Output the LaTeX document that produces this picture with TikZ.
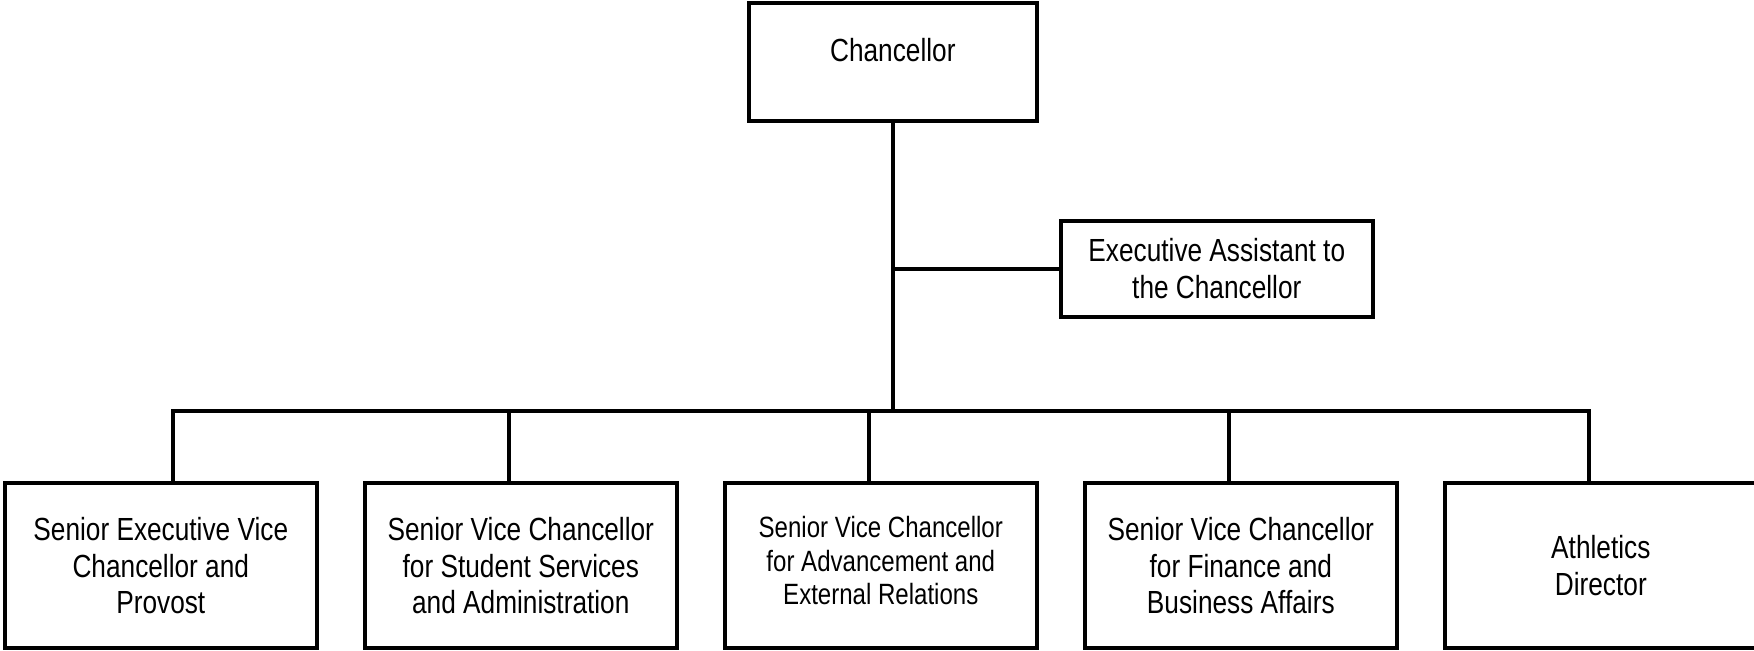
\documentclass[tikz,border=0pt]{standalone}
\usepackage{fontspec}
\setmainfont{Liberation Sans}[FakeStretch=0.82]
\begin{document}
\begin{tikzpicture}[x=0.375pt,y=-0.375pt,
  orgbox/.style={draw, rectangle, line width=1.5pt, inner sep=0pt, align=center,
                 font=\fontsize{12}{13.8}\selectfont},
  lowbox/.style={orgbox, minimum width=116.9pt, minimum height=62pt},
  smalltext/.style={inner sep=0pt, align=center, font=\fontsize{11}{12.65}\selectfont},
  link/.style={draw, line width=1.5pt, line join=miter}]
\useasboundingbox (0,0) rectangle (1754,650);
\clip (0,0) rectangle (1754,650);
% top
\node[orgbox, minimum width=107.9pt, minimum height=44.25pt] (chan) at (892.8,61.7) {};
\node[anchor=base, inner sep=0pt, font=\fontsize{12}{13.8}\selectfont] (chanlabel) at (892.8,61.7) {Chancellor};
\node[orgbox, minimum width=116.9pt, minimum height=36pt] (exec) at (1216.8,268.7) {Executive Assistant to\\the Chancellor};
% bottom row
\node[lowbox] (b1) at (160.8,565.7) {Senior Executive Vice\\Chancellor and\\Provost};
\node[lowbox] (b2) at (520.8,565.7) {Senior Vice Chancellor\\for Student Services\\and Administration};
\node[lowbox] (b3) at (880.8,565.7) {};
\node[smalltext, yshift=1.9pt] (b3label) at (b3.center) {Senior Vice Chancellor\\for Advancement and\\External Relations};
\node[lowbox] (b4) at (1240.8,565.7) {Senior Vice Chancellor\\for Finance and\\Business Affairs};
\node[lowbox] (b5) at (1600.8,565.7) {Athletics\\Director};
% bus coordinates
\coordinate (d1) at (172.7,410.7);
\coordinate (d2) at (509,410.7);
\coordinate (d3) at (869,410.7);
\coordinate (d4) at (1229,410.7);
\coordinate (d5) at (1589,410.7);
\coordinate (hub) at (chan.south |- d1);
% connectors
\draw[link] (chan.south) -- (hub);
\draw[link] (chan.south |- exec.west) -- (exec.west);
\draw[link] (d1 |- b1.north) -- (d1) -- (d5) -- (d5 |- b5.north);
\draw[link] (d2) -- (d2 |- b2.north);
\draw[link] (d3) -- (d3 |- b3.north);
\draw[link] (d4) -- (d4 |- b4.north);
\end{tikzpicture}
\end{document}
